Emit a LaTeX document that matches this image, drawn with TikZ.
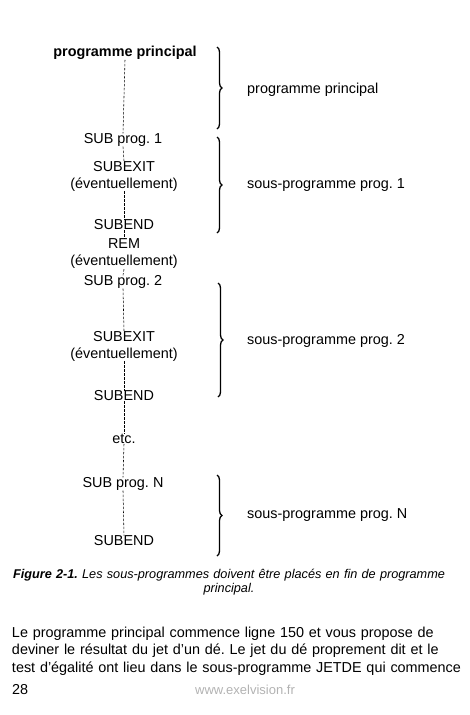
\documentclass[tikz,border=0pt]{standalone}
\usepackage{fontspec}
\setmainfont{Liberation Sans}
\usetikzlibrary{decorations.pathreplacing, positioning}
\frenchspacing

\begin{document}
\begin{tikzpicture}[
    x=1pt, y=-1pt,
    instr/.style={inner sep=0pt, align=center, font=\fontsize{14.4}{17}\selectfont},
    legende/.style={inner sep=0pt, anchor=west, font=\fontsize{14.4}{17}\selectfont},
    lien/.style={draw, line width=0.55pt, dash pattern=on 2.5pt off 1.5pt},
    accolade/.style={draw, decorate, decoration={brace, amplitude=5pt}, line width=1.3pt}
]
    \useasboundingbox (0,0) rectangle (470,715);

    % la colonne des instructions
    \node (princ) [instr, font=\fontsize{14.4}{17}\selectfont\bfseries] at (125,53) {programme principal};
    \node (sub1) [instr] at (123,140) {SUB prog. 1};
    \node (exit1) [instr] at (124,176) {SUBEXIT\\(éventuellement)};
    \node (end1) [instr] at (124,225) {SUBEND};
    \node (rem) [instr] at (124,254) {REM\\(éventuellement)};
    \node (sub2) [instr] at (123,282) {SUB prog. 2};
    \node (exit2) [instr] at (124,346) {SUBEXIT\\(éventuellement)};
    \node (end2) [instr] at (124,396) {SUBEND};
    \node (etc) [instr] at (124,439) {etc.};
    \node (subN) [instr] at (123,484) {SUB prog. N};
    \node (endN) [instr] at (124,541) {SUBEND};

    \draw[lien] (princ.south) -- (sub1.north);
    \draw[lien] (sub1.south) -- (exit1.north);
    \draw[lien] (exit1.south) -- (end1.north);
    \draw[lien] (end1.south) -- (rem.north);
    \draw[lien] (rem.south) -- (sub2.north);
    \draw[lien] (sub2.south) -- (exit2.north);
    \draw[lien] (exit2.south) -- (end2.north);
    \draw[lien] (end2.south) -- (etc.north);
    \draw[lien] (etc.south) -- (subN.north);
    \draw[lien] (subN.south) -- (endN.north);

    % les accolades
    \coordinate (a1h) at (217,47);
    \coordinate (a1b) at (217,129);
    \coordinate (a2h) at (217,137);
    \coordinate (a2b) at (217,233);
    \coordinate (a3h) at (218,283);
    \coordinate (a3b) at (218,397);
    \coordinate (a4h) at (217,475);
    \coordinate (a4b) at (217,556);

    \draw[accolade] (a1h) -- (a1b);
    \draw[accolade] (a2h) -- (a2b);
    \draw[accolade] (a3h) -- (a3b);
    \draw[accolade] (a4h) -- (a4b);

    \node (l1) [legende] at (247,90) {programme principal};
    \node (l2) [legende] at (247,185) {sous-programme prog. 1};
    \node (l3) [legende] at (247,341) {sous-programme prog. 2};
    \node (l4) [legende] at (247,515) {sous-programme prog. N};

    % legende et texte
    \node (fig) [inner sep=0pt, align=center, text width=445pt, font=\fontsize{12.7}{14.5}\selectfont\itshape] at (229,582)
        {{\bfseries Figure 2-1.} Les sous-programmes doivent être placés en fin de programme\\principal.};
    \node (texte) [inner sep=0pt, align=left, text width=443pt, font=\fontsize{14.4}{17.3}\selectfont] at (233.5,651)
        {\makebox[\linewidth][s]{Le programme principal commence ligne 150 et vous propose de}\\
         \makebox[\linewidth][s]{deviner le résultat du jet d’un dé. Le jet du dé proprement dit et le}\\
         \makebox[\linewidth][s]{test d’égalité ont lieu dans le sous-programme JETDE qui commence}};
    \node (page) [inner sep=0pt, anchor=west, font=\fontsize{14.4}{17}\selectfont] at (12,690) {28};
    \node (site) [inner sep=0pt, text=black!30, font=\fontsize{13}{15}\selectfont] at (245,690) {www.exelvision.fr};
\end{tikzpicture}
\end{document}
